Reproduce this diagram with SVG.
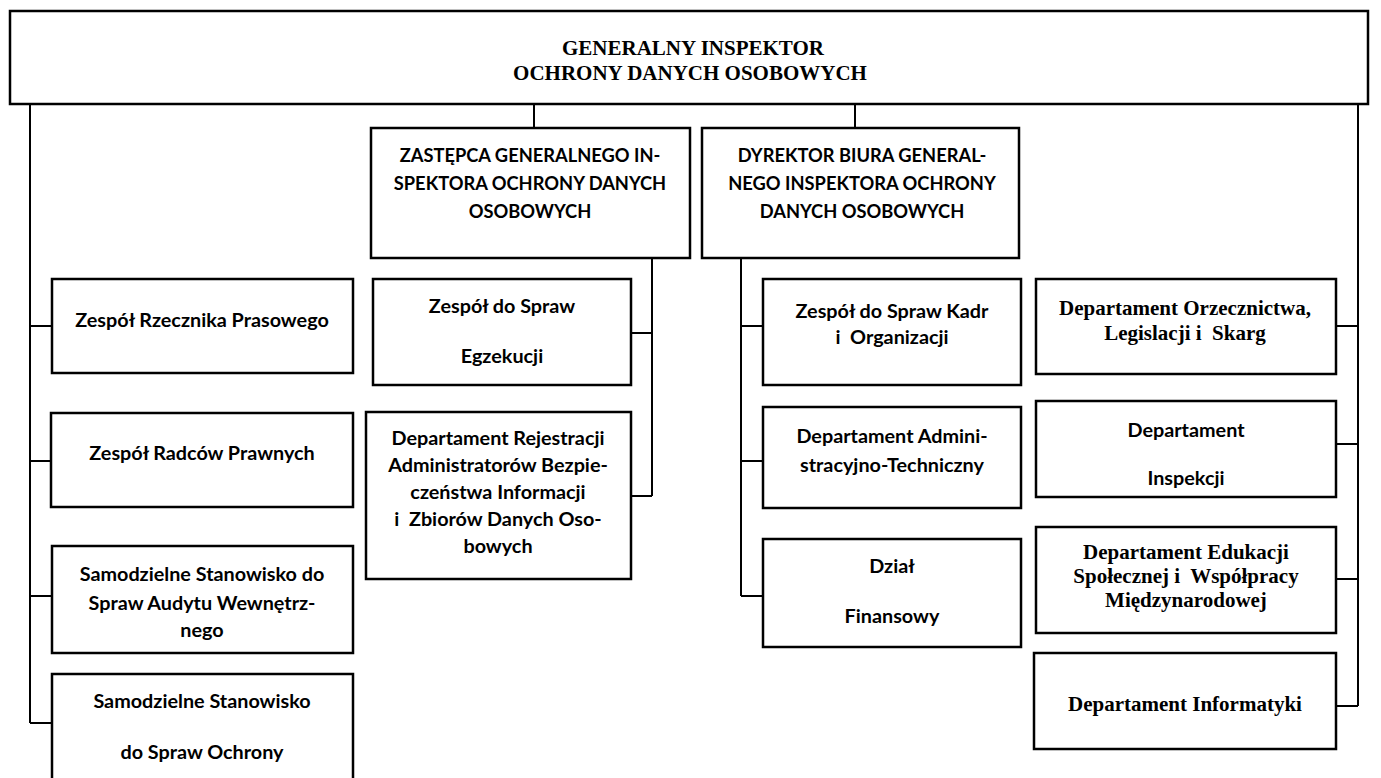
<svg xmlns="http://www.w3.org/2000/svg" width="1381" height="778" viewBox="0 0 1381 778">
<style>
.box{fill:#fff;stroke:#000;stroke-width:2.5}
.ln{fill:none;stroke:#000;stroke-width:2}
text{white-space:pre}
.c{font-family:Lato,"Open Sans",sans-serif;font-weight:bold;font-size:19.8px;text-anchor:middle;fill:#000}
.u{font-family:Lato,"Open Sans",sans-serif;font-weight:bold;font-size:18.3px;text-anchor:middle;fill:#000}
.t{font-family:"Liberation Serif","Times New Roman",serif;font-weight:bold;font-size:21px;text-anchor:middle;fill:#000}
</style>
<rect width="1381" height="778" fill="#fff"/>
<g id="connectors">
<path class="ln" d="M30,104V723M30,326H52M30,461H52M30,596H52M30,723H52"/>
<path class="ln" d="M534,104V128M855,104V128"/>
<path class="ln" d="M652,258V496M631,333H652M631,496H652"/>
<path class="ln" d="M741,258V596M741,326H763M741,461H763M741,596H763"/>
<path class="ln" d="M1358,104V706M1336,326H1358M1336,444H1358M1336,579H1358M1336,706H1358"/>
</g>
<g id="gi"><rect class="box" x="10" y="11" width="1358" height="93"/><text class="t" x="693" y="55">GENERALNY INSPEKTOR</text><text class="t" x="690" y="80">OCHRONY DANYCH OSOBOWYCH</text></g>
<g id="zastepca"><rect class="box" x="371" y="128" width="319" height="130"/><text class="u" x="530" y="162">ZASTĘPCA GENERALNEGO IN-</text><text class="u" x="530" y="190">SPEKTORA OCHRONY DANYCH</text><text class="u" x="530" y="218">OSOBOWYCH</text></g>
<g id="dyrektor"><rect class="box" x="702" y="128" width="317" height="130"/><text class="u" x="862" y="162">DYREKTOR BIURA GENERAL-</text><text class="u" x="862" y="190">NEGO INSPEKTORA OCHRONY</text><text class="u" x="862" y="218">DANYCH OSOBOWYCH</text></g>
<g id="rzecznik"><rect class="box" x="52" y="279" width="301" height="94"/><text class="c" x="202" y="327">Zespół Rzecznika Prasowego</text></g>
<g id="radcy"><rect class="box" x="51" y="413" width="302" height="94"/><text class="c" x="202" y="460">Zespół Radców Prawnych</text></g>
<g id="audyt"><rect class="box" x="52" y="546" width="301" height="107"/><text class="c" x="202" y="581">Samodzielne Stanowisko do</text><text class="c" x="202" y="610">Spraw Audytu Wewnętrz-</text><text class="c" x="202" y="637">nego</text></g>
<g id="ochrona"><rect class="box" x="52" y="674" width="301" height="120"/><text class="c" x="202" y="708">Samodzielne Stanowisko</text><text class="c" x="202" y="759">do Spraw Ochrony</text></g>
<g id="egzekucja"><rect class="box" x="373" y="279" width="258" height="106"/><text class="c" x="502" y="313">Zespół do Spraw</text><text class="c" x="502" y="363">Egzekucji</text></g>
<g id="rejestracja"><rect class="box" x="366" y="412" width="265" height="167"/><text class="c" x="498" y="445">Departament Rejestracji</text><text class="c" x="498" y="472">Administratorów Bezpie-</text><text class="c" x="498" y="499">czeństwa Informacji</text><text class="c" x="498" y="526">i  Zbiorów Danych Oso-</text><text class="c" x="498" y="553">bowych</text></g>
<g id="kadry"><rect class="box" x="763" y="279" width="258" height="106"/><text class="c" x="892" y="318">Zespół do Spraw Kadr</text><text class="c" x="892" y="344">i  Organizacji</text></g>
<g id="admin"><rect class="box" x="763" y="407" width="258" height="101"/><text class="c" x="892" y="443">Departament Admini-</text><text class="c" x="892" y="472">stracyjno-Techniczny</text></g>
<g id="finanse"><rect class="box" x="763" y="539" width="258" height="108"/><text class="c" x="892" y="573">Dział</text><text class="c" x="892" y="623">Finansowy</text></g>
<g id="orzecznictwo"><rect class="box" x="1036" y="279" width="300" height="95"/><text class="t" x="1185" y="315">Departament Orzecznictwa,</text><text class="t" x="1185" y="340">Legislacji i  Skarg</text></g>
<g id="inspekcja"><rect class="box" x="1036" y="401" width="300" height="96"/><text class="c" x="1186" y="437">Departament</text><text class="c" x="1186" y="485">Inspekcji</text></g>
<g id="edukacja"><rect class="box" x="1036" y="527" width="300" height="106"/><text class="t" x="1186" y="559">Departament Edukacji</text><text class="t" x="1186" y="583">Społecznej i  Współpracy</text><text class="t" x="1186" y="607">Międzynarodowej</text></g>
<g id="informatyka"><rect class="box" x="1034" y="653" width="302" height="96"/><text class="t" x="1185" y="711">Departament Informatyki</text></g>
</svg>
